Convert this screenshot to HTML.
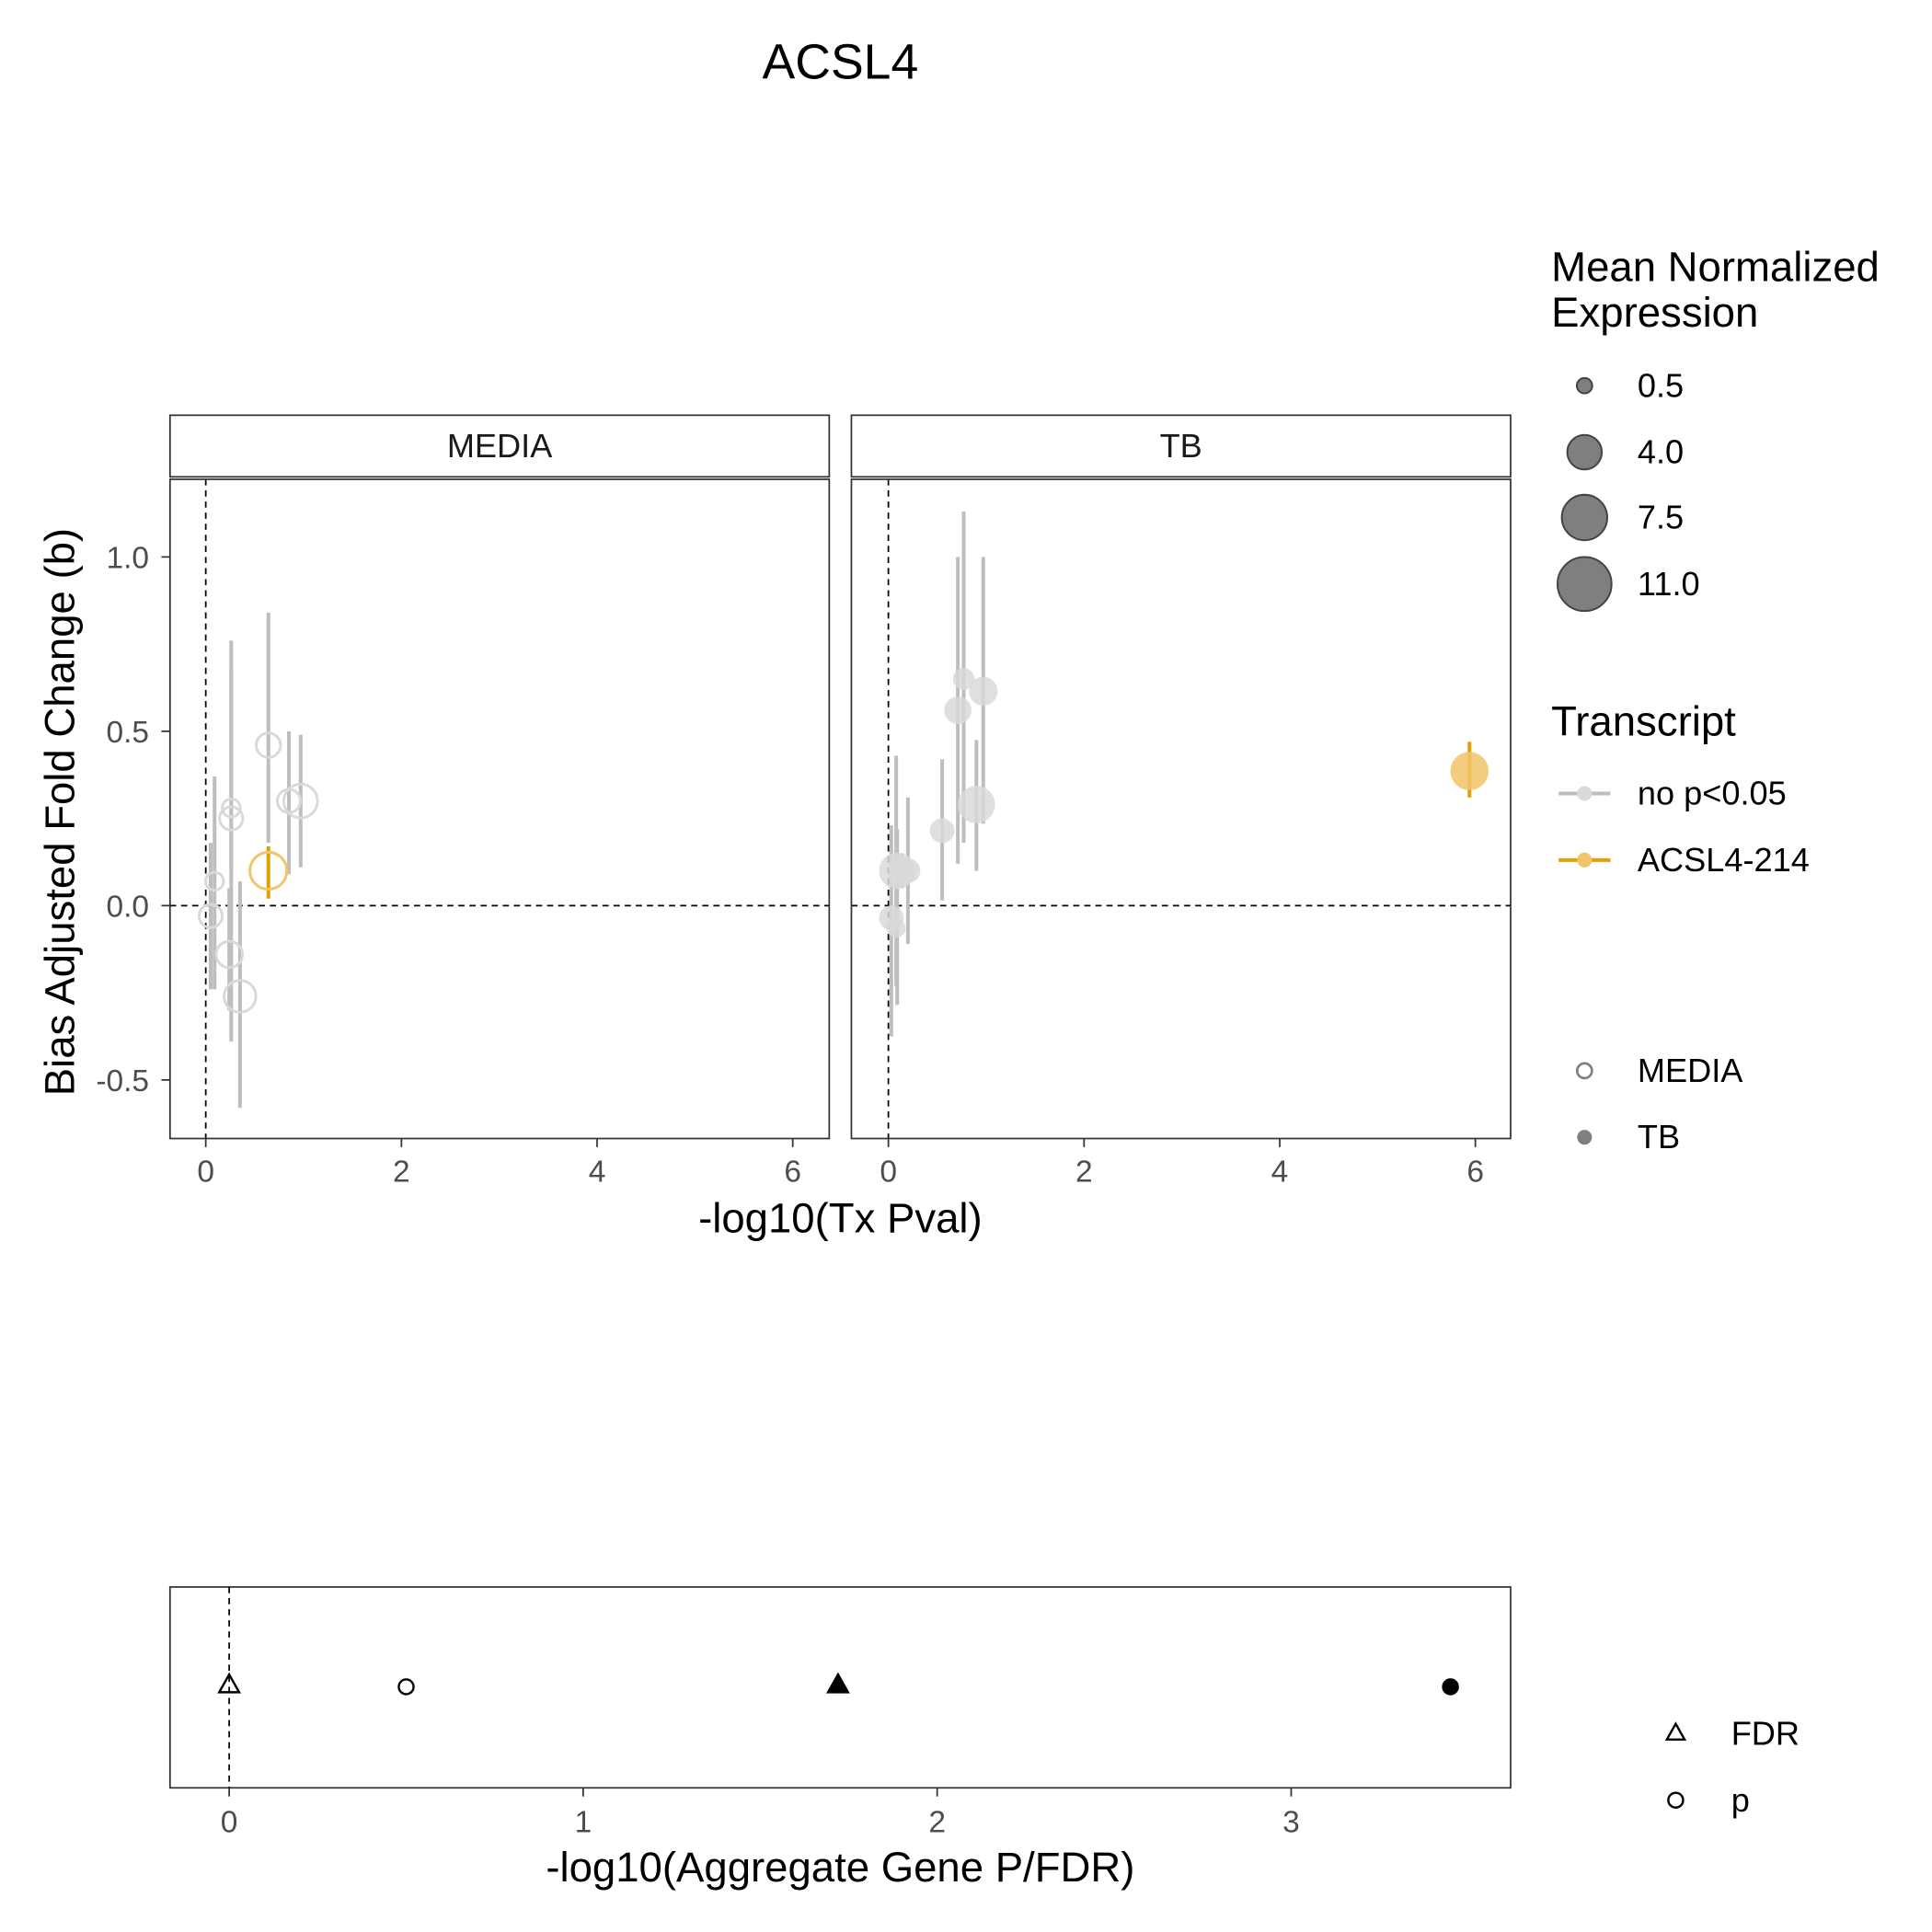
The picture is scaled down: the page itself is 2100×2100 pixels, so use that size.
<!DOCTYPE html>
<html><head><meta charset="utf-8"><style>
html,body{margin:0;padding:0;background:#fff;}
svg{display:block;font-family:"Liberation Sans",Arial,sans-serif;}
</style></head><body>
<svg id="chart" width="2100" height="2100" viewBox="0 0 1568 1568" xmlns="http://www.w3.org/2000/svg">
<text x="682" y="64" font-size="40" text-anchor="middle">ACSL4</text>
<g id="topg"></g>
<g id="bottom"></g>
<g id="legend"></g>
</svg>
<script>
// ---- data: MEDIA panel ----
const mediaX    = [0.09, 0.05, 0.26, 0.26, 0.24, 0.35, 0.64, 0.64, 0.85, 0.97];
const mediaY    = [0.07, -0.03, 0.28, 0.25, -0.14, -0.26, 0.46, 0.10, 0.30, 0.30];
const mediaLo   = [-0.24, -0.24, 0.10, -0.39, -0.30, -0.58, 0.18, 0.02, 0.09, 0.11];
const mediaHi   = [0.37, 0.18, 0.76, 0.68, 0.05, 0.07, 0.84, 0.17, 0.50, 0.49];
const mediaExpr = [0.78, 1.52, 0.78, 1.52, 2.1, 3.3, 1.73, 4.7, 1.52, 3.8];
const mediaSig  = [0, 0, 0, 0, 0, 0, 0, 1, 0, 0];
// ---- data: TB panel ----
const tbX    = [0.09, 0.20, 0.03, 0.08, 0.14, 0.55, 0.71, 0.77, 0.97, 0.90, 5.94];
const tbY    = [0.10, 0.10, -0.035, -0.065, 0.10, 0.215, 0.56, 0.65, 0.615, 0.29, 0.386];
const tbLo   = [-0.285, -0.11, -0.375, -0.23, 0.05, 0.015, 0.12, 0.18, 0.235, 0.10, 0.31];
const tbHi   = [0.22, 0.31, 0.23, 0.43, 0.15, 0.42, 1.0, 1.13, 1.0, 0.475, 0.47];
const tbExpr = [4.5, 1.8, 1.8, 0.9, 2.2, 1.8, 2.3, 1.3, 2.6, 4.8, 5.1];
const tbSig  = [0, 0, 0, 0, 0, 0, 0, 0, 0, 0, 1];
// ---- data: aggregate panel ----
const aggLabels = ["FDR", "p", "FDR", "p"];
const aggCond   = ["MEDIA", "MEDIA", "TB", "TB"];
const aggValues = [0.0, 0.5, 1.72, 3.45];
// ---- ticks ----
const xTicksTop = [0, 2, 4, 6];
const yTicks = [-0.5, 0.0, 0.5, 1.0];
const yTickLabels = ["-0.5", "0.0", "0.5", "1.0"];
const xTicksBottom = [0, 1, 2, 3];
const sizeLegendVals = [0.5, 4.0, 7.5, 11.0];

const NS = "http://www.w3.org/2000/svg";
function mk(parent, tag, attrs, text){const e=document.createElementNS(NS,tag);for(const k in attrs)e.setAttribute(k,attrs[k]);if(text!==undefined)e.textContent=text;parent.appendChild(e);return e;}
const rOf = v => 2 + 6*Math.sqrt(v);
const yS = v => 735 - v*283;
const GREY="#bebebe", PT="#d9d9d9", ORG="#E69F00", ORGP="#f0c46a";
const TICK=25, AXT=34, LEGT=34, LEGL=27;

const topG = document.getElementById('topg');
const panels = [
  {name:"MEDIA", x0:138, x1:673, zero:167, X:mediaX, Y:mediaY, L:mediaLo, H:mediaHi, E:mediaExpr, S:mediaSig, filled:false},
  {name:"TB", x0:691, x1:1226, zero:721, X:tbX, Y:tbY, L:tbLo, H:tbHi, E:tbExpr, S:tbSig, filled:true}
];
panels.forEach(p=>{
  const xS = v => p.zero + v*79.4;
  const key = p.name.toLowerCase();
  const g = mk(topG,'g',{});
  
  
  const strip = mk(g,'rect',{x:p.x0,y:337,width:p.x1-p.x0,height:50,fill:'#fff',stroke:'#333','stroke-width':1.3});
  
  
  const st = mk(g,'text',{x:(p.x0+p.x1)/2,y:371,'font-size':LEGL,'text-anchor':'middle',fill:'#1a1a1a'},p.name);
  
  
  const vl = mk(g,'line',{x1:xS(0),x2:xS(0),y1:389,y2:924,stroke:'#000','stroke-dasharray':'5,4','stroke-width':1.3});
  
  
  const hl = mk(g,'line',{x1:p.x0,x2:p.x1,y1:yS(0),y2:yS(0),stroke:'#000','stroke-dasharray':'5,4','stroke-width':1.3});
  
  
  p.X.forEach((xv,i)=>{
    const eb = mk(g,'line',{x1:xS(xv),x2:xS(xv),y1:yS(p.L[i]),y2:yS(p.H[i]),stroke:p.S[i]?ORG:GREY,'stroke-width':3});
    
    
  });
  p.X.forEach((xv,i)=>{
    const col = p.S[i]?ORGP:PT;
    const c = mk(g,'circle',{cx:xS(xv),cy:yS(p.Y[i]),r:rOf(p.E[i]),
      fill:p.filled?col:'none',stroke:p.filled?'none':col,'stroke-width':2.2,'fill-opacity':p.filled?0.85:1});
    
    
  });
  const fr = mk(g,'rect',{x:p.x0,y:389,width:p.x1-p.x0,height:535,fill:'none',stroke:'#333','stroke-width':1.3});
  
  
  xTicksTop.forEach(t=>{
    const tk = mk(g,'line',{x1:xS(t),x2:xS(t),y1:924,y2:931,stroke:'#333','stroke-width':1.3});
    
    
    const tl = mk(g,'text',{x:xS(t),y:959,'font-size':TICK,'text-anchor':'middle',fill:'#4d4d4d'},String(t));
    
    
  });
});
yTicks.forEach((t,i)=>{
  const tk = mk(topG,'line',{x1:131,x2:138,y1:yS(t),y2:yS(t),stroke:'#333','stroke-width':1.3});
  
  
  const tl = mk(topG,'text',{x:121,y:yS(t)+9,'font-size':TICK,'text-anchor':'end',fill:'#4d4d4d'},yTickLabels[i]);
  
  
});
const yt = mk(topG,'text',{x:0,y:0,'font-size':AXT,'text-anchor':'middle',transform:'translate(60,659) rotate(-90)'},'Bias Adjusted Fold Change (b)');


const xt = mk(topG,'text',{x:682,y:1000,'font-size':AXT,'text-anchor':'middle'},'-log10(Tx Pval)');



// ---- bottom panel ----
const botG = document.getElementById('bottom');
const xB = v => 186 + v*287.3;
const bf = mk(botG,'rect',{x:138,y:1288,width:1088,height:163,fill:'none',stroke:'#333','stroke-width':1.3});


const bv = mk(botG,'line',{x1:xB(0),x2:xB(0),y1:1288,y2:1451,stroke:'#000','stroke-dasharray':'5,4','stroke-width':1.3});


function tri(parent,cx,cy,s,filled){
  return mk(parent,'polygon',{points:`${cx},${cy-s} ${cx-s*0.9},${cy+s*0.6} ${cx+s*0.9},${cy+s*0.6}`,fill:filled?'#000':'none',stroke:'#000','stroke-width':1.8});
}
aggValues.forEach((v,i)=>{
  const filled = aggCond[i]==="TB";
  let m;
  if(aggLabels[i]==="FDR") m = tri(botG,xB(v),1368,9,filled);
  else m = mk(botG,'circle',{cx:xB(v),cy:1369,r:6,fill:filled?'#000':'none',stroke:'#000','stroke-width':1.8});
  
  
});
xTicksBottom.forEach(t=>{
  const tk = mk(botG,'line',{x1:xB(t),x2:xB(t),y1:1451,y2:1458,stroke:'#333','stroke-width':1.3});
  
  
  const tl = mk(botG,'text',{x:xB(t),y:1487,'font-size':TICK,'text-anchor':'middle',fill:'#4d4d4d'},String(t));
  
  
});
const bt = mk(botG,'text',{x:682,y:1527,'font-size':AXT,'text-anchor':'middle'},'-log10(Aggregate Gene P/FDR)');



// ---- legends ----
const lg = document.getElementById('legend');
const l1 = mk(lg,'text',{x:1259,y:228,'font-size':LEGT},'Mean Normalized');


const l2 = mk(lg,'text',{x:1259,y:265,'font-size':LEGT},'Expression');


const sizeY=[313,367,420,474];
sizeLegendVals.forEach((v,i)=>{
  const c = mk(lg,'circle',{cx:1286,cy:sizeY[i],r:rOf(v),fill:'#7f7f7f',stroke:'#444','stroke-width':1.5});
  
  
  const t = mk(lg,'text',{x:1329,y:sizeY[i]+9,'font-size':LEGL},v.toFixed(1));
  
  
});
const tt = mk(lg,'text',{x:1259,y:597,'font-size':LEGT},'Transcript');


[[644,GREY,PT,'no p<0.05'],[698,ORG,ORGP,'ACSL4-214']].forEach(e=>{
  const ln = mk(lg,'line',{x1:1265,x2:1307,y1:e[0],y2:e[0],stroke:e[1],'stroke-width':3});
  
  
  const c = mk(lg,'circle',{cx:1286,cy:e[0],r:6,fill:e[2]});
  
  
  const t = mk(lg,'text',{x:1329,y:e[0]+9,'font-size':LEGL},e[3]);
  
  
});
const cm = mk(lg,'circle',{cx:1286,cy:869,r:6,fill:'none',stroke:'#7f7f7f','stroke-width':2});


const cmt = mk(lg,'text',{x:1329,y:878,'font-size':LEGL},'MEDIA');


const ct = mk(lg,'circle',{cx:1286,cy:923,r:6,fill:'#7f7f7f'});


const ctt = mk(lg,'text',{x:1329,y:932,'font-size':LEGL},'TB');


const ft = tri(lg,1360,1407,8,false);


const ftt = mk(lg,'text',{x:1405,y:1416,'font-size':LEGL},'FDR');


const pc = mk(lg,'circle',{cx:1360,cy:1461,r:6,fill:'none',stroke:'#000','stroke-width':1.8});


const pct = mk(lg,'text',{x:1405,y:1470,'font-size':LEGL},'p');


</script>
</body></html>
